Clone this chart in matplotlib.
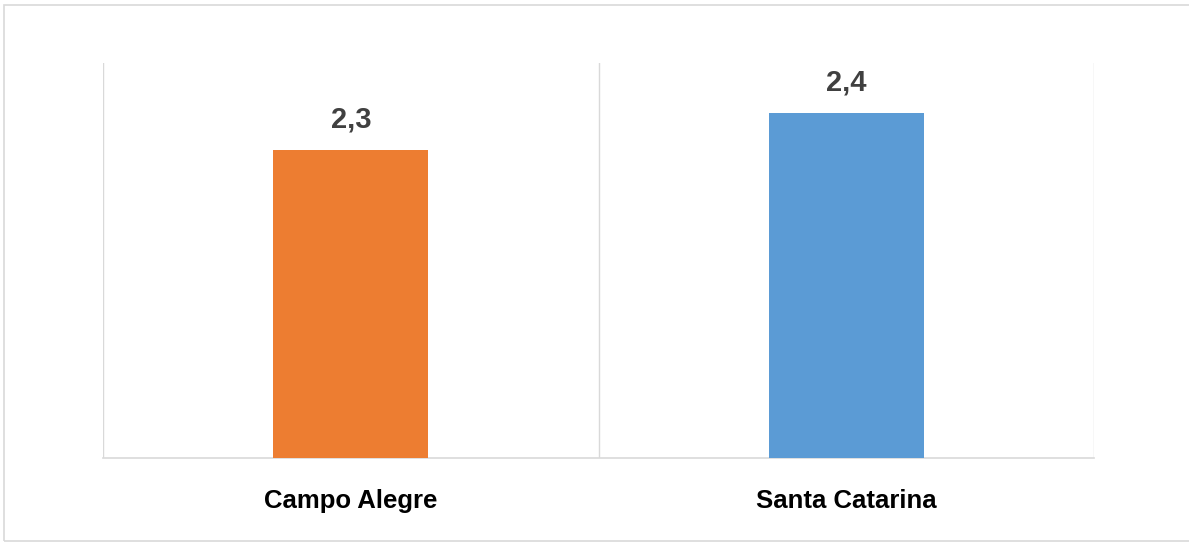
import matplotlib
matplotlib.use("Agg")
import matplotlib.pyplot as plt
from matplotlib.patches import Rectangle

# data
categories = ["Campo Alegre", "Santa Catarina"]
values = [2.3, 2.4]
value_labels = ["2,3", "2,4"]
colors = ["#ED7D31", "#5B9BD5"]

plt.rcParams["font.family"] = ["Liberation Sans Narrow", "Liberation Sans", "DejaVu Sans"]

fig = plt.figure(figsize=(11.89, 5.45), dpi=100)

# outer chart frame
fig.patches.append(Rectangle((4 / 1189, 0.008), 1.0, 0.983, transform=fig.transFigure,
                             fill=False, edgecolor="#d9d9d9", linewidth=1.2))

ax = fig.add_axes([103 / 1189, 1 - 458 / 545, 991 / 1189, 395 / 545])

x = range(len(categories))
ax.bar(x, values, width=0.313, color=colors, zorder=3)

ax.set_xlim(-0.5, len(categories) - 0.5)
ax.set_ylim(1.468, 2.536)

# category separators
for b in [-0.5, 0.5, 1.5]:
    ax.axvline(b, color="#d9d9d9", linewidth=1, zorder=1)

for s in ["top", "left", "right"]:
    ax.spines[s].set_visible(False)
ax.spines["bottom"].set_color("#d9d9d9")
ax.spines["bottom"].set_linewidth(1.2)

ax.set_yticks([])
ax.set_xticks(list(x))
ax.set_xticklabels(categories, fontsize=18.5, fontweight="bold", color="#000000")
ax.tick_params(axis="x", length=0, pad=22)

for xi, v, lab in zip(x, values, value_labels):
    ax.annotate(lab, (xi, v), xytext=(0, 12), textcoords="offset points",
                ha="center", va="bottom", fontsize=21, fontweight="bold",
                color="#404040")

fig.savefig("out.png", dpi=100)
